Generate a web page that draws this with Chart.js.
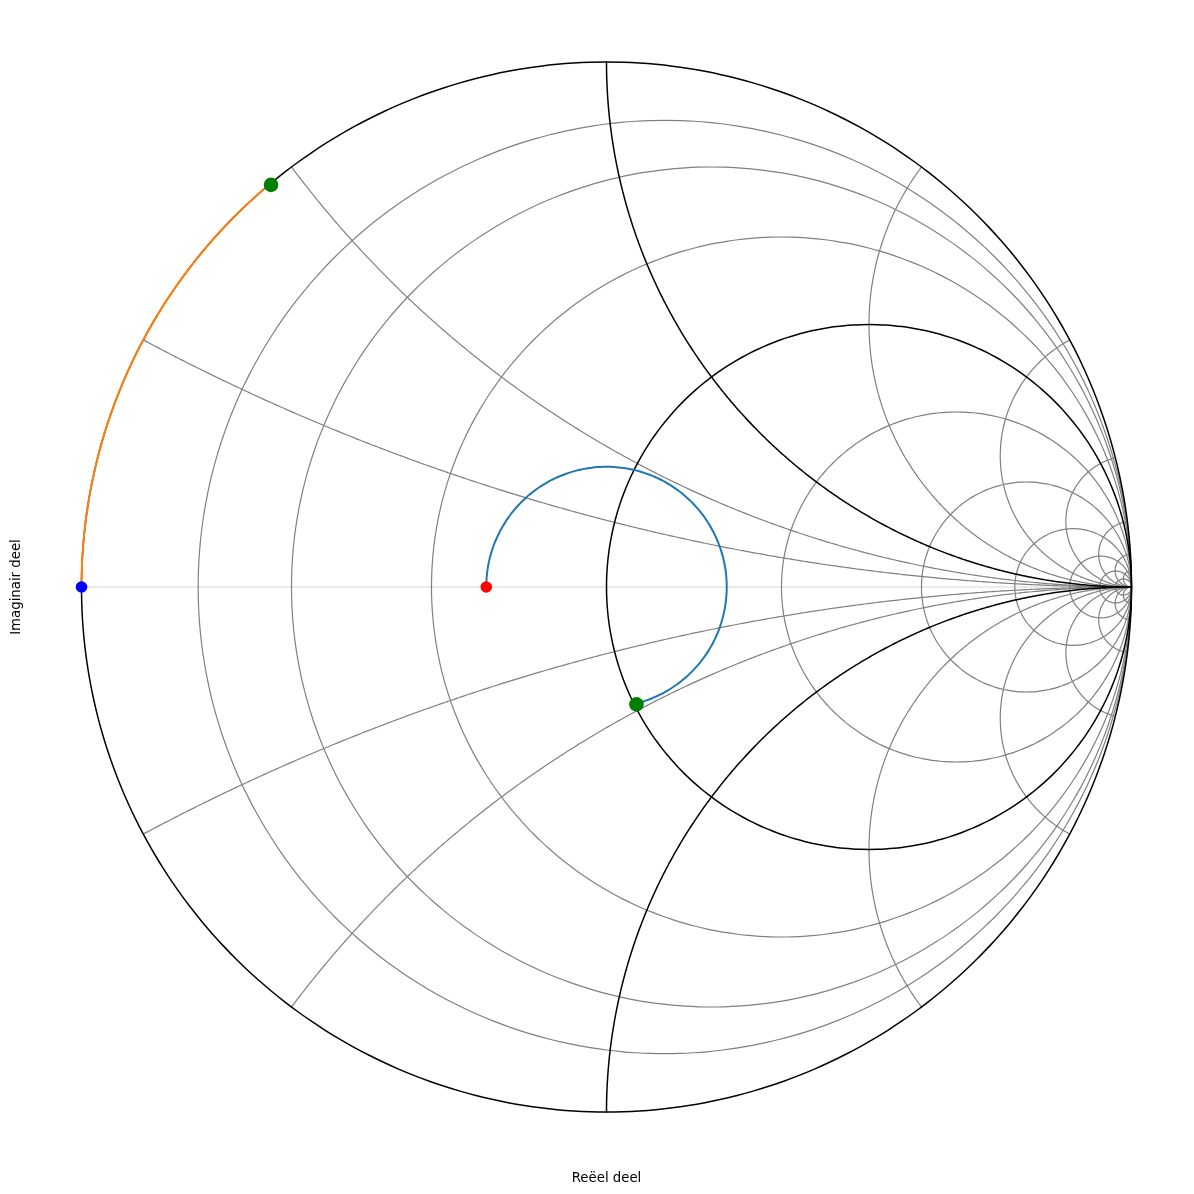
<!DOCTYPE html>
<html>
<head>
<meta charset="utf-8">
<script src="https://cdn.jsdelivr.net/npm/chart.js@4.4.1/dist/chart.umd.min.js"></script>
<style>
  html, body { margin: 0; padding: 0; background: #fff; }
  #wrap { width: 1194px; height: 1194px; }
</style>
</head>
<body>
<div id="wrap"><canvas id="smith"></canvas></div>
<script>
// normalised grid values of the Smith chart
const gridResistances = [0.125, 0.25, 0.5, 2, 4, 8, 16, 32, 64];
const gridReactances = [0.25, 0.5, 2, 4, 8, 16, 32, 64];
const boldResistances = [0, 1];
const boldReactances = [1];

// points in the reflection-coefficient plane: [re, im]
const loadPoint = [-0.229, 0];
const matchPoint = [0.057, -0.2235];
const shortPoint = [-1, 0];
const stubPoint = [-0.639, 0.766];

const xTitle = 'Reëel deel';
const yTitle = 'Imaginair deel';

const STEPS = 200;

function resistanceCircle(r) {
  const c = r / (1 + r), rad = 1 / (1 + r);
  const pts = [];
  for (let i = 0; i <= STEPS; i++) {
    const t = 2 * Math.PI * i / STEPS;
    pts.push({ x: c + rad * Math.cos(t), y: rad * Math.sin(t) });
  }
  return pts;
}

// part of the circle centre (1, 1/x) that lies inside the unit circle
function reactanceArc(x) {
  const s = Math.sign(x), ax = Math.abs(x), rad = 1 / ax;
  let end = Math.atan2(ax * ax - 1, -2 * ax);
  if (end > 0) end -= 2 * Math.PI;
  const pts = [];
  for (let i = 0; i <= STEPS; i++) {
    const t = -Math.PI / 2 + (end + Math.PI / 2) * i / STEPS;
    pts.push({ x: 1 + rad * Math.cos(t), y: s * (rad + rad * Math.sin(t)) });
  }
  return pts;
}

// clockwise arc around the origin, from one point to the angle of another
function arcBetween(from, to) {
  const rad = Math.hypot(from[0], from[1]);
  const a0 = Math.atan2(from[1], from[0]);
  let a1 = Math.atan2(to[1], to[0]);
  while (a1 > a0) a1 -= 2 * Math.PI;
  const pts = [];
  for (let i = 0; i <= STEPS; i++) {
    const t = a0 + (a1 - a0) * i / STEPS;
    pts.push({ x: rad * Math.cos(t), y: rad * Math.sin(t) });
  }
  return pts;
}

function lineSet(data, color, width, order) {
  return {
    data, showLine: true, borderColor: color, borderWidth: width, borderJoinStyle: 'round', borderCapStyle: 'round',
    pointRadius: 0, pointHoverRadius: 0, fill: false, tension: 0.3, clip: false, order,
  };
}
function dotSet(p, color, radius) {
  return { data: [{ x: p[0], y: p[1] }], showLine: false, pointRadius: radius, pointHoverRadius: radius, backgroundColor: color, borderColor: color, borderWidth: 0, clip: false, order: 1 };
}

const datasets = [];
datasets.push(lineSet([{ x: -1, y: 0 }, { x: 1, y: 0 }], '#e3e3e3', 1.5, 100));
gridResistances.forEach((r) => datasets.push(lineSet(resistanceCircle(r), '#808080', 1.2, 90)));
gridReactances.forEach((x) => {
  datasets.push(lineSet(reactanceArc(x), '#808080', 1.2, 90));
  datasets.push(lineSet(reactanceArc(-x), '#808080', 1.2, 90));
});
boldResistances.forEach((r) => datasets.push(lineSet(resistanceCircle(r), '#000000', 1.5, 80)));
boldReactances.forEach((x) => {
  datasets.push(lineSet(reactanceArc(x), '#000000', 1.5, 80));
  datasets.push(lineSet(reactanceArc(-x), '#000000', 1.5, 80));
});
datasets.push(lineSet(arcBetween(loadPoint, matchPoint), '#1f77b4', 2, 20));
datasets.push(lineSet(arcBetween(shortPoint, stubPoint), '#ff7f0e', 2, 20));
datasets.push(dotSet(loadPoint, 'red', 5.8));
datasets.push(dotSet(shortPoint, 'blue', 5.8));
datasets.push(dotSet(matchPoint, 'green', 7.3));
datasets.push(dotSet(stubPoint, 'green', 7.3));

const titleFont = { family: 'DejaVu Sans', size: 13.3 };

new Chart(document.getElementById('smith'), {
  type: 'scatter',
  data: { datasets },
  options: {
    responsive: true,
    maintainAspectRatio: false,
    animation: false,
    events: [],
    layout: { padding: { left: 4.5, right: 62.5, top: 62, bottom: 3 } },
    plugins: { legend: { display: false }, tooltip: { enabled: false } },
    scales: {
      x: {
        type: 'linear', min: -1, max: 1,
        grid: { display: false }, border: { display: false }, ticks: { display: false },
        title: { display: true, text: xTitle, color: '#000', font: titleFont },
        afterFit: (s) => { s.height = 79; },
      },
      y: {
        type: 'linear', min: -1, max: 1,
        grid: { display: false }, border: { display: false }, ticks: { display: false },
        title: { display: true, text: yTitle, color: '#000', font: titleFont },
        afterFit: (s) => { s.width = 77; },
      },
    },
  },
});
</script>
</body>
</html>
